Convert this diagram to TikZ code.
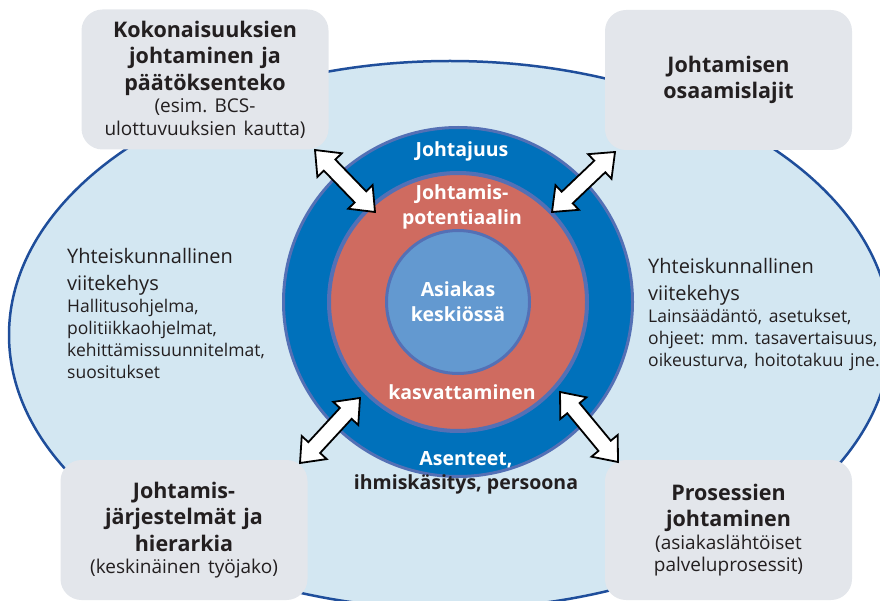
\documentclass[tikz,border=0pt]{standalone}
\usepackage{fontspec}
\setmainfont{Open Sans}
\frenchspacing
\usetikzlibrary{calc}
\definecolor{framebg}{HTML}{D3E7F2}
\definecolor{framecol}{HTML}{1F4E9B}
\definecolor{leadcol}{HTML}{0071BB}
\definecolor{rimcol}{HTML}{5470B5}
\definecolor{potcol}{HTML}{CF6B60}
\definecolor{corecol}{HTML}{6399D0}
\definecolor{boxcol}{HTML}{E3E6EB}
\definecolor{inkcol}{HTML}{231F20}
\newcommand{\bigtxt}{\fontsize{21.5}{26.5}\selectfont}
\newcommand{\smalltxt}{\fontsize{19}{22.5}\selectfont}
\newcommand{\sidesmall}{\fontsize{17.5}{22}\selectfont}
\newcommand{\twoway}[2]{% #1, #2 named tips of a white double block arrow
  \coordinate (tw1) at ($(#1)!21pt!(#2)$);
  \coordinate (tw2) at ($(#2)!21pt!(#1)$);
  \draw[twowaybody] (#1) -- ($(tw1)!17pt!90:(#2)$) -- ($(tw1)!8pt!90:(#2)$)
    -- ($(tw2)!8pt!-90:(#1)$) -- ($(tw2)!17pt!-90:(#1)$) -- (#2)
    -- ($(tw2)!17pt!90:(#1)$) -- ($(tw2)!8pt!90:(#1)$)
    -- ($(tw1)!8pt!-90:(#2)$) -- ($(tw1)!17pt!-90:(#2)$) -- cycle;
}

\begin{document}
\begin{tikzpicture}[x=1pt, y=-1pt,
    every node/.style={inner sep=0pt, text=inkcol},
    cornerbox/.style={fill=boxcol, rounded corners=21pt, minimum width=247pt, minimum height=140pt,
      text width=240pt, align=center, font=\bigtxt\bfseries},
    ring/.style={circle, draw=rimcol},
    inring/.style={text=white, font=\fontsize{19.5}{25}\selectfont\bfseries},
    sidetext/.style={anchor=north west, text width=235pt, align=left, font=\fontsize{20}{27}\selectfont},
    twowaybody/.style={draw=black, fill=white, line width=1.8pt, line join=miter}]
  \useasboundingbox (0,0) rectangle (880,601);
  % outer frame
  \draw[fill=framebg, draw=framecol, line width=2.5pt] (450,335) ellipse [x radius=441, y radius=274];
  \node[sidetext] (kehysvasen) at (67,248) {Yhteiskunnallinen\\ viitekehys\par
    {\sidesmall Hallitusohjelma,\\ politiikkaohjelmat,\\ kehittämissuunnitelmat,\\ suositukset\par}};
  \node[sidetext] (kehysoikea) at (648,258) {Yhteiskunnallinen\\ viitekehys\par
    {\sidesmall Lainsäädäntö, asetukset,\\ ohjeet: mm. tasavertaisuus,\\ oikeusturva, hoitotakuu jne.\par}};
  % corner boxes
  \node[cornerbox] (kokonais) at (205,79.5) {Kokonaisuuksien\\ johtaminen ja\\ päätöksenteko\par
    {\smalltxt\mdseries (esim. BCS-\\ ulottuvuuksien kautta)\par}};
  \node[cornerbox] (osaaminen) at (728.5,80) {Johtamisen\\ osaamislajit};
  \node[cornerbox] (jarjestelmat) at (184,530) {Johtamis-\\ järjestelmät ja\\ hierarkia\par
    {\smalltxt\mdseries (keskinäinen työjako)\par}};
  \node[cornerbox] (prosessit) at (728.5,530) {Prosessien\\ johtaminen\par
    {\smalltxt\mdseries (asiakaslähtöiset\\ palveluprosessit)\par}};
  % rings
  \node[ring, fill=leadcol, line width=3pt, minimum size=349pt] (leadring) at (458,302) {};
  \node[ring, fill=potcol, line width=4pt, minimum size=258pt] (potring) at (458,302) {};
  \node[ring, fill=corecol, line width=3pt, minimum size=143pt, inring, align=center] (asiakas) at (458,302) {Asiakas\\ keskiössä};
  \node[inring, anchor=base] (johtajuus) at (462,157) {Johtajuus};
  \node[inring, align=center] (potentiaali) at (462,207) {Johtamis-\\ potentiaalin};
  \node[inring, anchor=base] (kasvatus) at (462,399) {kasvattaminen};
  \node[inring, anchor=base] (asenteet) at (466,465) {Asenteet,};
  \node[inring, text=inkcol, anchor=base] (persoona) at (466,489) {ihmiskäsitys, persoona};
  % arrows between the boxes and the rings
  \coordinate (kokonaisA) at (315,150);
  \coordinate (kokonaisB) at (375,212);
  \coordinate (osaaminenA) at (615,152);
  \coordinate (osaaminenB) at (552,212);
  \coordinate (jarjestelmatA) at (300,463);
  \coordinate (jarjestelmatB) at (360,398);
  \coordinate (prosessitA) at (618,462);
  \coordinate (prosessitB) at (560,392);
  \twoway{kokonaisA}{kokonaisB}
  \twoway{osaaminenA}{osaaminenB}
  \twoway{jarjestelmatA}{jarjestelmatB}
  \twoway{prosessitA}{prosessitB}
\end{tikzpicture}
\end{document}
